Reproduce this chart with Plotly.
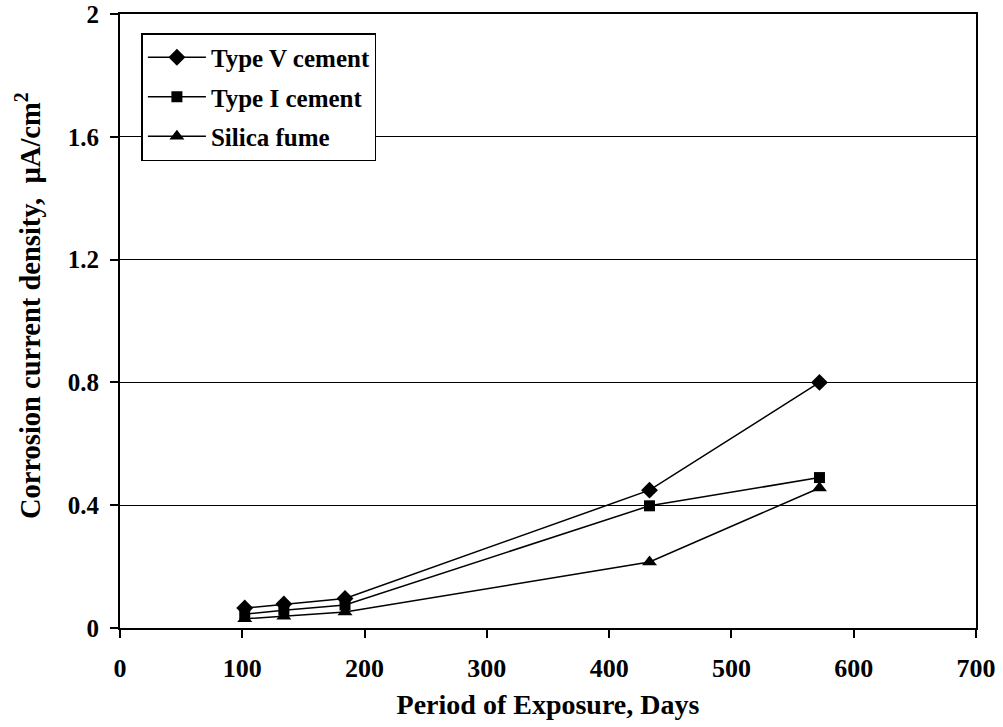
import plotly.graph_objects as go

# Exposure periods (days) and corrosion current density (µA/cm²)
days = [102, 134, 184, 433, 572]
type_v = [0.065, 0.078, 0.096, 0.449, 0.800]
type_i = [0.045, 0.058, 0.075, 0.398, 0.490]
silica_fume = [0.030, 0.038, 0.052, 0.215, 0.456]

x_ticks = [0, 100, 200, 300, 400, 500, 600, 700]
y_ticks = [0, 0.4, 0.8, 1.2, 1.6, 2]
y_tick_text = ["0", "0.4", "0.8", "1.2", "1.6", "2"]

FONT = "Liberation Serif, Times New Roman, serif"

fig = go.Figure()
series = [
    ("Type V cement", type_v, "diamond", 13),
    ("Type I cement", type_i, "square", 11),
    ("Silica fume", silica_fume, "triangle-up", 13),
]
for name, vals, sym, size in series:
    fig.add_trace(go.Scatter(
        x=days, y=vals, name=name, legendgroup=name, mode="lines+markers",
        line=dict(color="black", width=1.5),
        marker=dict(symbol=sym, size=size, color="black"),
    ))

# vertical axis title placed as free text to the left of the tick labels
fig.add_annotation(
    text="Corrosion current density,  µA/cm<sup>2</sup>",
    xref="paper", yref="paper", x=-0.1075, y=0.526,
    xanchor="center", yanchor="middle", textangle=-90, showarrow=False,
    font=dict(family=FONT, size=28.5, color="black", weight="bold"),
)

fig.update_layout(
    width=1003, height=727,
    margin=dict(l=120, r=27, t=14, b=99),
    paper_bgcolor="white", plot_bgcolor="white",
    font=dict(family=FONT, size=24, color="black", weight="bold"),
    showlegend=True,
    legend=dict(
        x=0.025, y=0.969, xanchor="left", yanchor="top",
        bgcolor="white", bordercolor="black", borderwidth=1.5,
        font=dict(family=FONT, size=25, color="black", weight="bold"),
        tracegroupgap=4, itemwidth=58,
    ),
    xaxis=dict(
        range=[0, 700], tickvals=x_ticks, ticks="outside", ticklen=8,
        tickwidth=1.5, tickcolor="black", showgrid=False, zeroline=False,
        showline=True, linecolor="black", linewidth=2, mirror=True,
        ticklabelstandoff=8, automargin=False,
        title=dict(text="Period of Exposure, Days", standoff=12,
                   font=dict(family=FONT, size=28, weight="bold")),
        tickfont=dict(family=FONT, size=26, weight="bold"),
    ),
    yaxis=dict(
        range=[0, 2], tickvals=y_ticks, ticktext=y_tick_text,
        ticks="outside", ticklen=8, tickwidth=1.5, tickcolor="black",
        showgrid=True, gridcolor="black", gridwidth=1, zeroline=False,
        showline=True, linecolor="black", linewidth=2, mirror=True,
        ticklabelstandoff=6, automargin=False,
        tickfont=dict(family=FONT, size=25, weight="bold"),
    ),
)

fig.write_html("out.html")
